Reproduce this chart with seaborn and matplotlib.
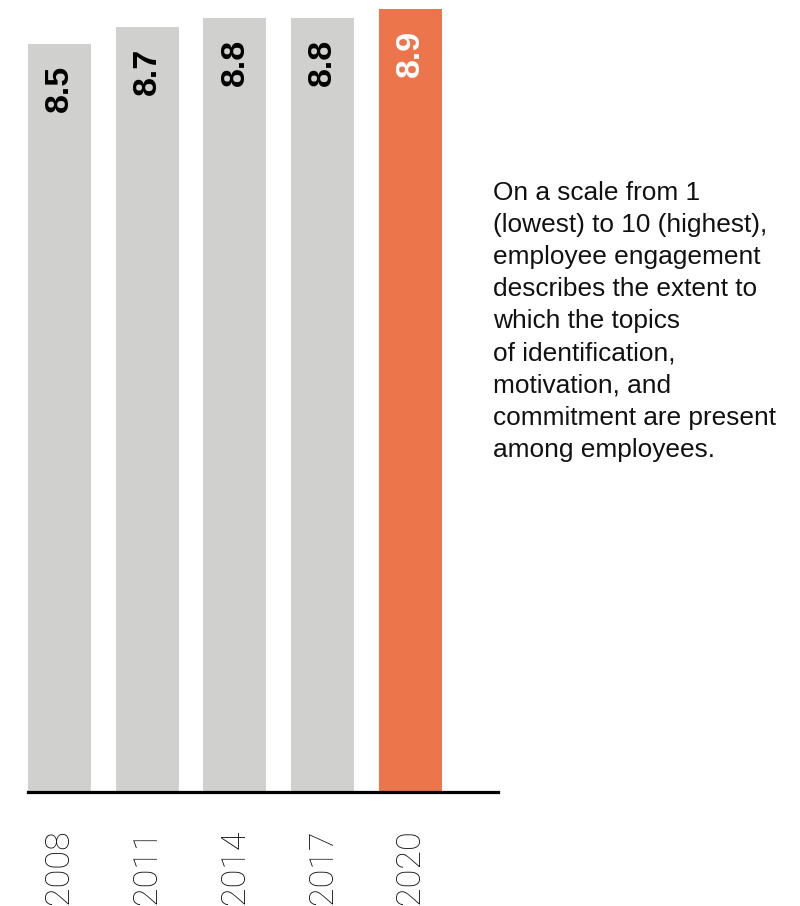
import matplotlib
matplotlib.use("Agg")
import matplotlib.pyplot as plt
import seaborn as sns
import pandas as pd

years = ["2008", "2011", "2014", "2017", "2020"]
values = [8.5, 8.7, 8.8, 8.8, 8.9]
value_labels = ["8.5", "8.7", "8.8", "8.8", "8.9"]
bar_colors = ["#d0d0cf", "#d0d0cf", "#d0d0cf", "#d0d0cf", "#ec754c"]
label_colors = ["#000000", "#000000", "#000000", "#000000", "#ffffff"]
note = ("On a scale from 1\n(lowest) to 10 (highest),\nemployee engagement\n"
        "describes the extent to\nwhich the topics\nof identification,\n"
        "motivation, and\ncommitment are present\namong employees.")

sns.set_style("white")
plt.rcParams['font.family'] = ['Liberation Sans', 'DejaVu Sans']

df = pd.DataFrame({"year": years, "value": values})

fig = plt.figure(figsize=(8, 9.06), dpi=100)
ax = fig.add_axes([28/800, (906-792)/906, 470/800, 783/906])

sns.barplot(data=df, x="year", y="value", hue="year",
            palette=dict(zip(years, bar_colors)), width=0.718,
            saturation=1, legend=False, ax=ax, zorder=1, linewidth=0)

ax.set_xlim(-0.359, 5.0)
ax.set_ylim(0, 8.9)
for s in ["top", "right", "left"]:
    ax.spines[s].set_visible(False)
ax.spines["bottom"].set_linewidth(2.3)
ax.spines["bottom"].set_color("#000000")
ax.spines["bottom"].set_zorder(3)
ax.set_yticks([])
ax.set_xlabel("")
ax.set_ylabel("")
ax.tick_params(axis="x", length=0, pad=27)
ax.set_xticks(range(len(years)))
ax.set_xticklabels(years, rotation=90, fontsize=24.5, color="#111111",
                   family=["Roboto", "DejaVu Sans"], fontweight="light",
                   va="top", ha="center")

for i, (v, lab, c) in enumerate(zip(values, value_labels, label_colors)):
    ax.annotate(lab, xy=(i, v), xytext=(0, -15), textcoords="offset points",
                rotation=90, ha="center", va="top", fontsize=24.5,
                fontweight="bold", color=c)

fig.text(493/800, 1 - 457/906, note, ha="left", va="baseline", fontsize=18.9,
         color="#111111", linespacing=1.43)

fig.savefig("out.png", dpi=100)
